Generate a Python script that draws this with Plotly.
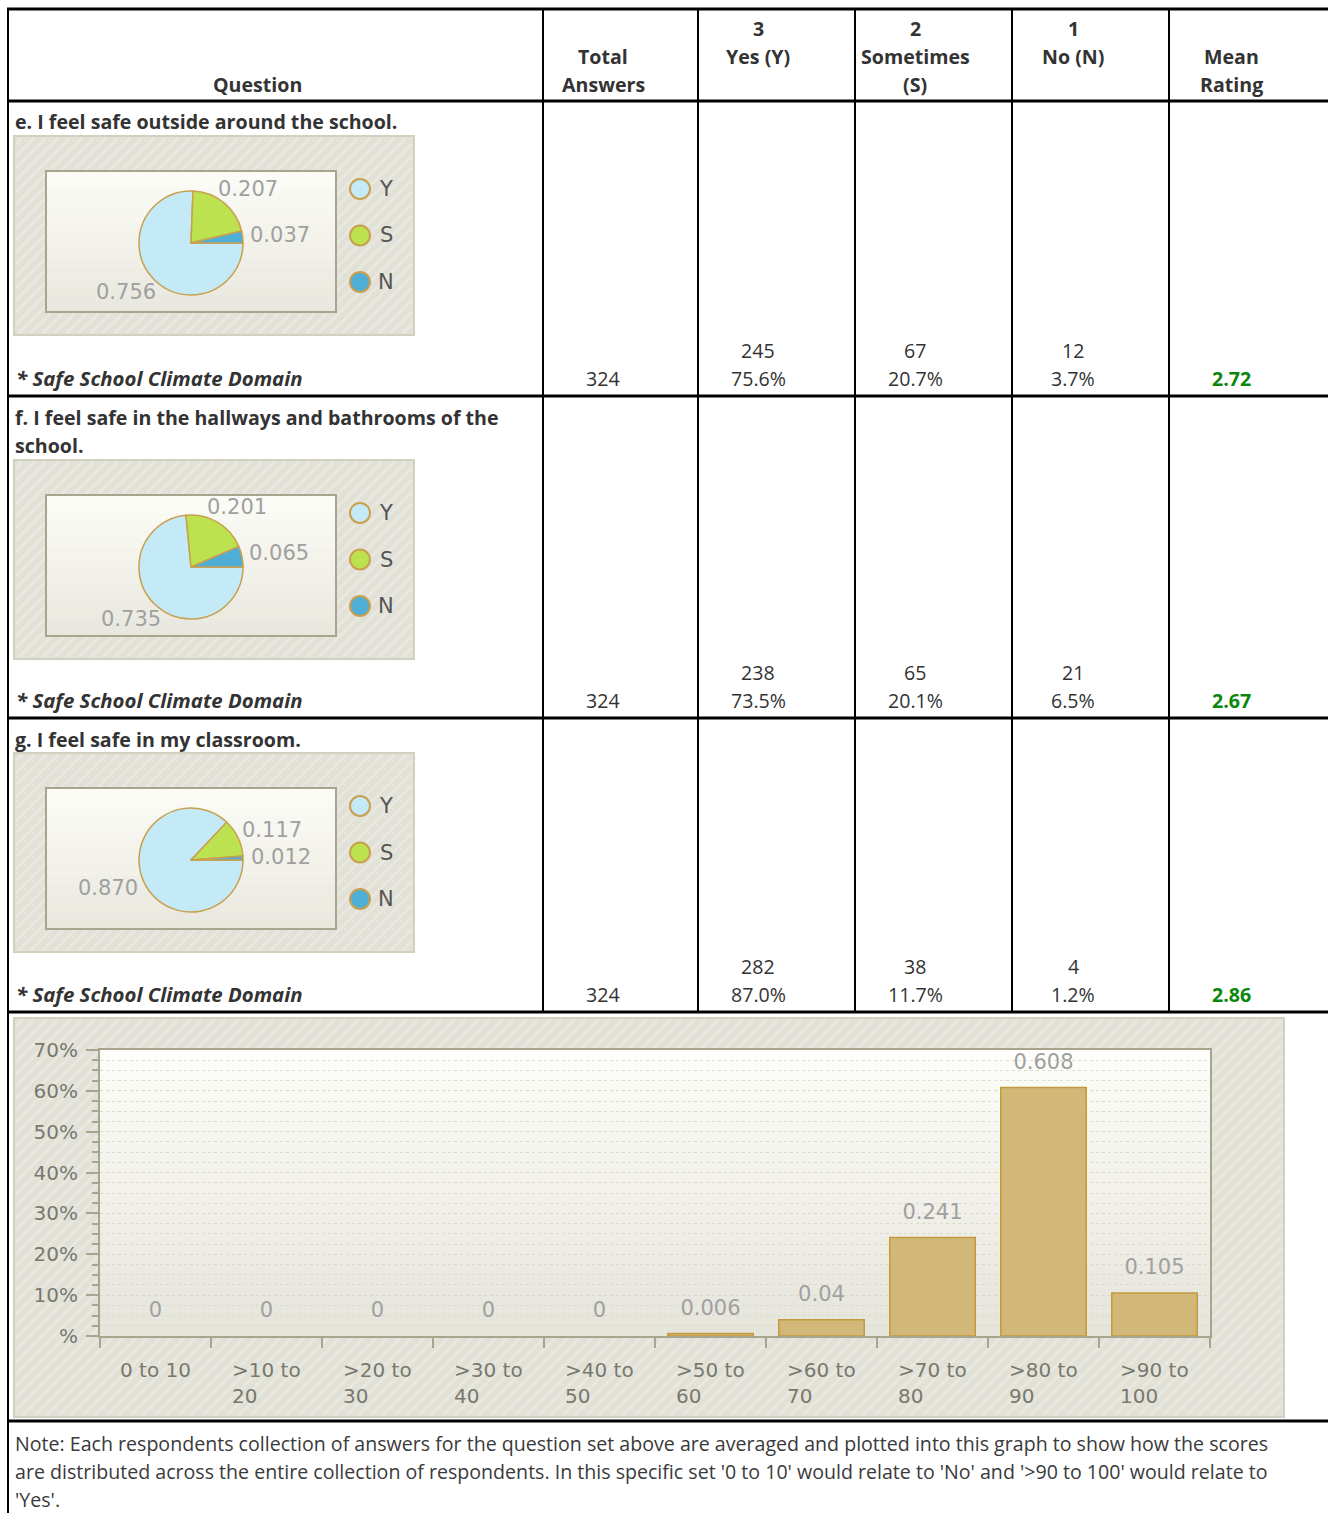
import math
import plotly.graph_objects as go

W, H = 1328, 1513

header_lines = [
    ["Question"],
    ["Total", "Answers"],
    ["3", "Yes (Y)", ""],
    ["2", "Sometimes", "(S)"],
    ["1", "No (N)", ""],
    ["Mean", "Rating"],
]
questions = [
    ["e. I feel safe outside around the school."],
    ["f. I feel safe in the hallways and bathrooms of the", "school."],
    ["g. I feel safe in my classroom."],
]
domain_label = "* Safe School Climate Domain"
total_answers = [324, 324, 324]
yes_counts = [245, 238, 282]
sometimes_counts = [67, 65, 38]
no_counts = [12, 21, 4]
pie_labels = ["Y", "S", "N"]

bins = ["0 to 10", ">10 to 20", ">20 to 30", ">30 to 40", ">40 to 50",
        ">50 to 60", ">60 to 70", ">70 to 80", ">80 to 90", ">90 to 100"]
bin_share = [0, 0, 0, 0, 0, 0.006, 0.04, 0.241, 0.608, 0.105]
y_ticks = [0, 0.1, 0.2, 0.3, 0.4, 0.5, 0.6, 0.7]
y_tick_text = ["%", "10%", "20%", "30%", "40%", "50%", "60%", "70%"]

note_lines = [
    "Note: Each respondents collection of answers for the question set above are averaged and plotted into this graph to show how the scores",
    "are distributed across the entire collection of respondents. In this specific set '0 to 10' would relate to 'No' and '>90 to 100' would relate to",
    "'Yes'.",
]

# ---- styling
TXT = "#333333"
FONT = "Open Sans"
FS = 19.6
CHART_FONT = "DejaVu Sans"
PIE_COLORS = ["#c4eaf8", "#bde24f", "#4faed6"]
GOLD = "#c9a04e"
BOX_BG = "#e2e1d8"
HATCH = "#e9e8e0"
BOX_EDGE = "#d2d0bf"
INNER_EDGE = "#a9a48e"
LABEL_GREY = "#a0a0a0"
AXIS_GREY = "#78786d"


def px(x):
    return x / W


def py(y):
    return 1 - y / H


fig = go.Figure()
shapes = []
annotations = []


def text(x, y, s, size=FS, color=TXT, xanchor="center", family=FONT, align="center"):
    annotations.append(dict(x=px(x), y=py(y), xref="paper", yref="paper", text=s,
                            showarrow=False, xanchor=xanchor, yanchor="middle", align=align,
                            font=dict(family=family, size=size, color=color)))


def rect(x0, y0, x1, y1, fill, line=None, lw=0):
    shapes.append(dict(type="rect", xref="paper", yref="paper", layer="below",
                       x0=px(x0), x1=px(x1), y0=py(y1), y1=py(y0),
                       fillcolor=fill, line=dict(color=line or fill, width=lw)))


def hatch(x0, y0, x1, y1, gap=12):
    # "/" stripes clipped to the box
    segs = []
    c = x0 + y0 + gap / 2
    while c < x1 + y1:
        xa, xb = max(x0, c - y1), min(x1, c - y0)
        if xb > xa:
            segs.append("M%.5f,%.5f L%.5f,%.5f" % (px(xa), py(c - xa), px(xb), py(c - xb)))
        c += gap
    shapes.append(dict(type="path", xref="paper", yref="paper", layer="below",
                       path=" ".join(segs), line=dict(color=HATCH, width=2.5)))


def hline(y, x0, x1, w):
    shapes.append(dict(type="line", xref="paper", yref="paper", x0=px(x0), x1=px(x1),
                       y0=py(y), y1=py(y), line=dict(color="black", width=w)))


def vline(x, y0, y1, w):
    shapes.append(dict(type="line", xref="paper", yref="paper", x0=px(x), x1=px(x),
                       y0=py(y0), y1=py(y1), line=dict(color="black", width=w)))


def gradient(x0, y0, x1, y1, c_top, c_bot, n=20):
    a = [int(c_top[i:i + 2], 16) for i in (1, 3, 5)]
    b = [int(c_bot[i:i + 2], 16) for i in (1, 3, 5)]
    step = (y1 - y0) / n
    for k in range(n):
        t = k / (n - 1)
        c = "#%02x%02x%02x" % tuple(round(a[j] + (b[j] - a[j]) * t) for j in range(3))
        rect(x0, y0 + k * step, x1, y0 + (k + 1) * step + 0.5, c)


def chart_box(x0, y0, x1, y1):
    rect(x0, y0, x1, y1, BOX_BG)
    hatch(x0 + 2, y0 + 2, x1 - 2, y1 - 2)
    rect(x0, y0, x1, y1, "rgba(0,0,0,0)", BOX_EDGE, 2)


# ---- table grid
col_x = [8, 543, 698, 855, 1012, 1169]
col_centers = [257, 603, 758, 915, 1073, 1231]
row_lines = [101, 396, 718, 1012]

hline(9, 7, W, 3)
for y in row_lines:
    hline(y, 7, W, 3)
hline(1421, 7, W, 3)
vline(8, 8, H, 2)
for x in col_x[1:]:
    vline(x, 8, 1012, 2)

# header
for cx, lines in zip(col_centers, header_lines):
    n = len(lines)
    for i, s in enumerate(lines):
        if s:
            text(cx, 84 - 28 * (n - 1 - i), "<b>%s</b>" % s)

# rows
for r in range(3):
    top, bot = row_lines[r], row_lines[r + 1]
    q = questions[r]
    for i, s in enumerate(q):
        text(13, top + 21 + 29 * i, "<b>%s</b>" % s, xanchor="left")
    box_top = top + 21 + 29 * (len(q) - 1) + 14
    total = total_answers[r]
    counts = [yes_counts[r], sometimes_counts[r], no_counts[r]]
    mean = (3 * counts[0] + 2 * counts[1] + counts[2]) / total

    text(14, bot - 18, "<b><i>%s</i></b>" % domain_label, xanchor="left", size=20.4)
    text(col_centers[1], bot - 18, str(total))
    for c, cx in zip(counts, col_centers[2:5]):
        text(cx, bot - 46, str(c))
        text(cx, bot - 18, "%.1f%%" % (100 * c / total))
    text(col_centers[5], bot - 18, "<b>%.2f</b>" % mean, color="#0a870a")

    # pie chart box
    chart_box(14, box_top, 414, box_top + 199)
    gradient(46, box_top + 35, 336, box_top + 176, "#fcfcf7", "#e9e8df", 16)
    rect(46, box_top + 35, 336, box_top + 176, "rgba(0,0,0,0)", INNER_EDGE, 2)
    cx, cy, rad = 191, box_top + 107, 52
    fig.add_trace(go.Pie(
        labels=pie_labels, values=counts, sort=False, direction="clockwise", rotation=90,
        domain=dict(x=[px(cx - rad), px(cx + rad)], y=[py(cy + rad), py(cy - rad)]),
        marker=dict(colors=PIE_COLORS, line=dict(color=GOLD, width=1.5)),
        textinfo="none", hoverinfo="label+value", showlegend=False))
    # slice labels around the pie (clockwise from 3 o'clock)
    start = 0.0
    for c in counts:
        frac = c / total
        mid = math.radians(360 * (start + frac / 2))
        start += frac
        text(cx + 90 * math.cos(mid), cy + 70 * math.sin(mid), "%.3f" % frac,
             size=21, color=LABEL_GREY, family=CHART_FONT)
    # legend
    for i, (lab, col) in enumerate(zip(pie_labels, PIE_COLORS)):
        ly = box_top + 53 + 46.5 * i
        shapes.append(dict(type="circle", xref="paper", yref="paper",
                           x0=px(350), x1=px(370), y0=py(ly + 10), y1=py(ly - 10),
                           fillcolor=col, line=dict(color=GOLD, width=2)))
        text(386, ly, lab, size=21, color="#555555", family=CHART_FONT)

# ---- bar chart
chart_box(14, 1018, 1284, 1417)
gradient(100, 1050, 1210, 1336, "#fdfdf9", "#e6e5dc", 24)

fig.add_trace(go.Bar(
    x=bins, y=bin_share, width=0.77,
    marker=dict(color="#d2b878",
                line=dict(color="#c49a3c", width=[1.5 if v else 0 for v in bin_share])),
    hoverinfo="x+y", showlegend=False))
fig.add_trace(go.Scatter(
    x=bins, y=bin_share, mode="markers+text", text=["%g" % v for v in bin_share],
    textposition="top center", cliponaxis=False,
    marker=dict(size=20, color="rgba(0,0,0,0)"),
    textfont=dict(family=CHART_FONT, size=21, color=LABEL_GREY),
    hoverinfo="skip", showlegend=False))

for b in bins:
    lo, hi = b.split(" to ")
    lab = b if lo == "0" else "%s to<br>%s" % (lo, hi)
    annotations.append(dict(x=b, y=py(1356), xref="x", yref="paper", text=lab,
                            showarrow=False, xanchor="center", yanchor="top", align="left",
                            font=dict(family=CHART_FONT, size=20, color=AXIS_GREY)))

# note
for i, s in enumerate(note_lines):
    text(13, 1443 + 28 * i, s, xanchor="left", color="#3a3a3a")

fig.update_layout(
    width=W, height=H, margin=dict(l=0, r=0, t=0, b=0, pad=0, autoexpand=False),
    paper_bgcolor="white", plot_bgcolor="rgba(0,0,0,0)",
    shapes=shapes, annotations=annotations, showlegend=False,
    xaxis=dict(domain=[px(100), px(1210)], type="category", range=[-0.5, len(bins) - 0.5],
               showticklabels=False, ticks="outside", tickson="boundaries", ticklen=10,
               tickcolor=INNER_EDGE, tickwidth=2, showline=True, linecolor=INNER_EDGE,
               linewidth=2, mirror=True, showgrid=False, fixedrange=True, automargin=False),
    yaxis=dict(domain=[py(1336), py(1050)], range=[0, 0.7], tickvals=y_ticks,
               ticktext=y_tick_text, ticks="outside", ticklen=12, tickcolor=INNER_EDGE,
               tickwidth=2, ticklabelstandoff=4, showline=True, linecolor=INNER_EDGE,
               linewidth=2, mirror=True, zeroline=False, automargin=False,
               showgrid=True, gridcolor="#d9d7c9", griddash="dot", gridwidth=1,
               minor=dict(dtick=0.025, ticks="outside", ticklen=6, tickcolor=INNER_EDGE,
                          showgrid=True, gridcolor="#dcdacc", griddash="dot"),
               tickfont=dict(family=CHART_FONT, size=20, color=AXIS_GREY), fixedrange=True),
)

fig.write_html("out.html", config={"displayModeBar": False},
               post_script="document.body.style.margin = '0';")
